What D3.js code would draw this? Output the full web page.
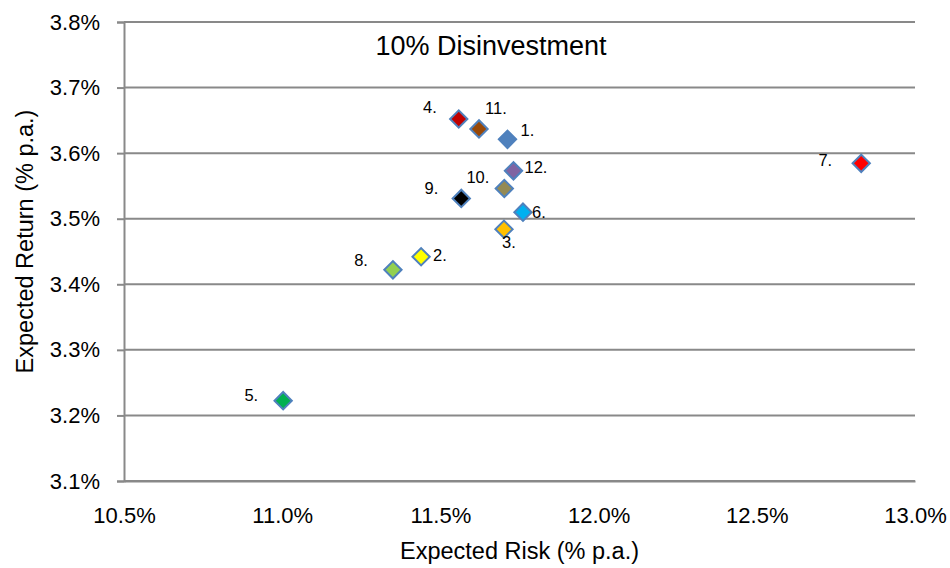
<!DOCTYPE html>
<html>
<head>
<meta charset="utf-8">
<script src="https://cdn.jsdelivr.net/npm/d3@7"></script>
<style>
  html, body { margin: 0; padding: 0; background: #fff; }
  svg text { font-family: "Liberation Sans", Arial, sans-serif; fill: #000; }
</style>
</head>
<body>
<svg id="chart" width="950" height="568"></svg>
<script>
// Portfolio options under a 10% disinvestment scenario
const labels  = ["1.", "2.", "3.", "4.", "5.", "6.", "7.", "8.", "9.", "10.", "11.", "12."];
const risk    = [11.712, 11.439, 11.701, 11.558, 11.003, 11.761, 12.830, 11.350, 11.566, 11.702, 11.622, 11.731];
const ret     = [3.621, 3.442, 3.484, 3.652, 3.2225, 3.510, 3.5845, 3.422, 3.531, 3.546, 3.637, 3.573];
const colours = ["#4F81BD", "#FFFF00", "#FFC000", "#C00000", "#00B050", "#00B0F0",
                 "#FF0000", "#92D050", "#000000", "#948A54", "#984807", "#8064A2"];
// label placement: dx/dy offsets from the marker, and text anchor
const labelDx = [13, 12, -2, -22, -25, 9, -29, -25, -23, -15, 6, 11];
const labelDy = [-3, 4, 19, -6, 0, 6, 3, -4, -4, -6, -15, 2];
const labelAnchor = ["start", "start", "start", "end", "end", "start", "end", "end", "end", "end", "start", "start"];

const xTicks = [10.5, 11.0, 11.5, 12.0, 12.5, 13.0];
const yTicks = [3.1, 3.2, 3.3, 3.4, 3.5, 3.6, 3.7, 3.8];

const title = "10% Disinvestment";
const xTitle = "Expected Risk (% p.a.)";
const yTitle = "Expected Return (% p.a.)";

const svg = d3.select("#chart");
const margin = { left: 124, right: 35, top: 22, bottom: 87 };
const W = 950, H = 568;
const iw = W - margin.left - margin.right;
const ih = H - margin.top - margin.bottom;

const x = d3.scaleLinear().domain([10.5, 13.0]).range([0, iw]);
const y = d3.scaleLinear().domain([3.1, 3.8]).range([ih, 0]);

const g = svg.append("g").attr("transform", `translate(${margin.left},${margin.top})`);

const gridColour = "#898989";

// horizontal gridlines
g.append("g")
  .selectAll("line")
  .data(yTicks)
  .join("line")
  .attr("x1", 0).attr("x2", iw)
  .attr("y1", d => y(d)).attr("y2", d => y(d))
  .attr("stroke", gridColour)
  .attr("stroke-width", 2);

// y axis
const yAxis = g.append("g")
  .call(d3.axisLeft(y).tickValues(yTicks).tickSize(7).tickPadding(17)
    .tickFormat(d => d.toFixed(1) + "%"));
yAxis.select(".domain").attr("stroke", gridColour).attr("stroke-width", 2);
yAxis.selectAll(".tick line").attr("stroke", gridColour).attr("stroke-width", 2);
yAxis.selectAll(".tick text").attr("font-size", 22).attr("font-family", "Liberation Sans, Arial, sans-serif");

// x axis
const xAxis = g.append("g")
  .attr("transform", `translate(0,${ih})`)
  .call(d3.axisBottom(x).tickValues(xTicks).tickSize(0).tickPadding(26)
    .tickFormat(d => d.toFixed(1) + "%"));
xAxis.select(".domain").attr("stroke", gridColour).attr("stroke-width", 2);
xAxis.selectAll(".tick text").attr("font-size", 22).attr("font-family", "Liberation Sans, Arial, sans-serif");

// markers: squares rotated into diamonds
const pts = labels.map((l, i) => ({ label: l, x: risk[i], y: ret[i], c: colours[i], i }));
const sym = d3.symbol().type(d3.symbolSquare).size(150);

g.append("g")
  .selectAll("path")
  .data(pts)
  .join("path")
  .attr("d", sym)
  .attr("transform", d => `translate(${x(d.x)},${y(d.y)}) rotate(45)`)
  .attr("fill", d => d.c)
  .attr("stroke", "#4F81BD")
  .attr("stroke-width", 2);

// point labels
g.append("g")
  .selectAll("text")
  .data(pts)
  .join("text")
  .attr("x", d => x(d.x) + labelDx[d.i])
  .attr("y", d => y(d.y) + labelDy[d.i])
  .attr("text-anchor", d => labelAnchor[d.i])
  .attr("font-size", 16.5)
  .text(d => d.label);

// chart title
svg.append("text")
  .attr("x", 491).attr("y", 55)
  .attr("text-anchor", "middle")
  .attr("font-size", 27)
  .text(title);

// axis titles
svg.append("text")
  .attr("x", margin.left + iw / 2).attr("y", 559)
  .attr("text-anchor", "middle")
  .attr("font-size", 23.5)
  .text(xTitle);

svg.append("text")
  .attr("transform", `translate(33,${margin.top + ih / 2 - 10}) rotate(-90)`)
  .attr("text-anchor", "middle")
  .attr("font-size", 23.5)
  .text(yTitle);
</script>
</body>
</html>
